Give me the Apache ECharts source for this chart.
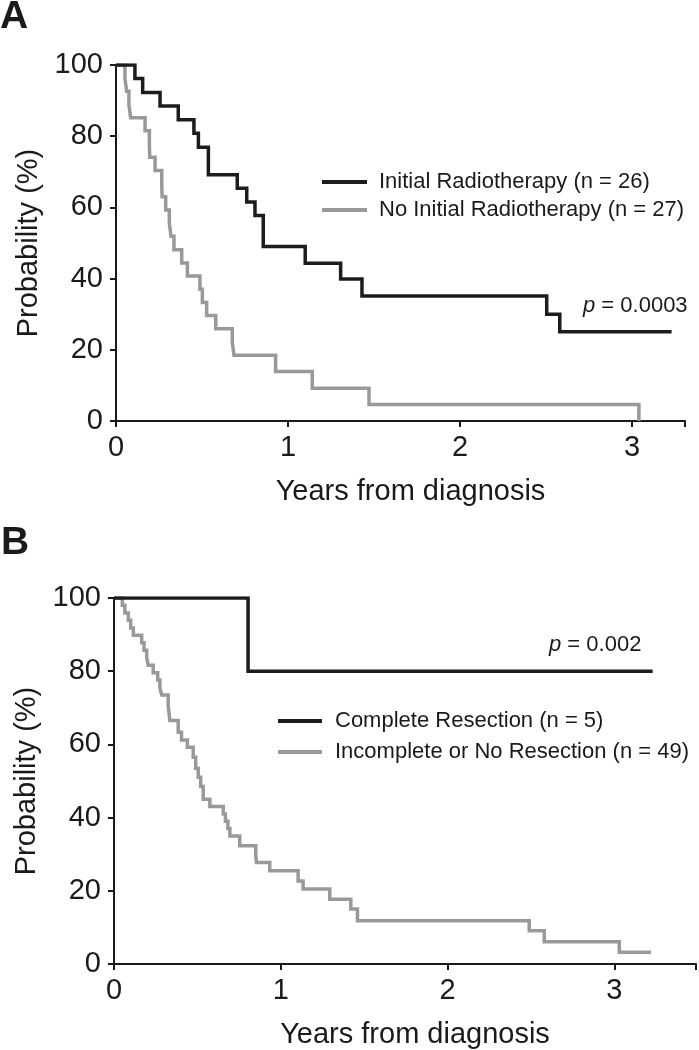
<!DOCTYPE html>
<html>
<head>
<meta charset="utf-8">
<script src="https://cdn.jsdelivr.net/npm/echarts@6/dist/echarts.min.js"></script>
<style>
html,body{margin:0;padding:0;background:#fff;}
#c{width:699px;height:1050px;}
</style>
</head>
<body>
<div id="c"></div>
<script>
// ---- Data ----
const xTicks = [0, 1, 2, 3];
const yTicks = [0, 20, 40, 60, 80, 100];

// Panel A: Initial Radiotherapy (n = 26)
const aRadTime = [0, 0.110, 0.155, 0.256, 0.362, 0.453, 0.479, 0.537, 0.705, 0.760, 0.808, 0.856, 1.10, 1.306, 1.43, 2.504, 2.58, 3.23];
const aRadSurv = [100, 96.2, 92.3, 88.5, 84.6, 80.8, 76.9, 69.2, 65.4, 61.5, 57.7, 49.0, 44.3, 39.9, 35.1, 30.0, 25.1, 25.1];

// Panel A: No Initial Radiotherapy (n = 27)
const aNoRadTime = [0, 0.052, 0.062, 0.075, 0.085, 0.169, 0.194, 0.196, 0.227, 0.266, 0.268, 0.289, 0.31, 0.320, 0.337, 0.382, 0.415, 0.488, 0.502, 0.527, 0.580, 0.676, 0.686, 0.928, 1.141, 1.471, 3.04];
const aNoRadSurv = [100, 96.3, 92.6, 88.9, 85.2, 81.5, 77.8, 74.1, 70.4, 66.7, 63.0, 59.3, 55.6, 51.9, 48.1, 44.4, 40.7, 37.0, 33.3, 29.6, 25.9, 22.2, 18.5, 13.9, 9.2, 4.6, 0];

// Panel B: Complete Resection (n = 5)
const bCompTime = [0, 0.804, 3.23];
const bCompSurv = [100, 80, 80];

// Panel B: Incomplete or No Resection (n = 49)
const bIncTime = [0, 0.05, 0.065, 0.086, 0.10, 0.116, 0.166, 0.18, 0.196, 0.205, 0.235, 0.262, 0.275, 0.286, 0.325, 0.335, 0.385, 0.405, 0.44, 0.475, 0.49, 0.505, 0.52, 0.535, 0.575, 0.655, 0.668, 0.683, 0.695, 0.754, 0.85, 0.854, 0.934, 1.104, 1.134, 1.294, 1.42, 1.46, 2.49, 2.58, 3.03, 3.22];
const bIncSurv = [100, 98.0, 95.9, 93.9, 91.8, 89.8, 87.8, 85.7, 83.7, 81.6, 79.6, 77.6, 75.5, 73.5, 70.5, 66.5, 63.3, 61.2, 59.2, 56.5, 53.5, 51.0, 48.5, 45.0, 43.0, 41.0, 39.0, 37.0, 35.0, 32.3, 30.0, 27.7, 25.5, 22.7, 20.5, 17.7, 15.0, 11.8, 9.1, 6.1, 3.2, 3.2];

const namesA = ['Initial Radiotherapy (n = 26)', 'No Initial Radiotherapy (n = 27)'];
const namesB = ['Complete Resection (n = 5)', 'Incomplete or No Resection (n = 49)'];
const pA = '0.0003';
const pB = '0.002';

// ---- Styling ----
const FONT = 'Liberation Sans, Arial, Helvetica, sans-serif';
const INK = '#1a1a1a';
const BLACK = '#1c1c1c';
const GRAY = '#999999';

function zip(t, s) { return t.map((v, i) => [v, s[i]]); }

function xAxis(gridIndex, max) {
  return {
    type: 'value', gridIndex, min: 0, max, interval: 1,
    name: 'Years from diagnosis', nameLocation: 'middle', nameGap: 56,
    nameTextStyle: { fontFamily: FONT, fontSize: 29, color: INK, padding: [0, 0, 0, 20] },
    axisLine: { show: true, onZero: false, lineStyle: { color: INK, width: 2 } },
    axisTick: { show: true, length: 6, lineStyle: { color: INK, width: 2 } },
    axisLabel: { fontFamily: FONT, fontSize: 29, color: INK, margin: 12,
      formatter: v => (xTicks.indexOf(v) >= 0 ? String(v) : '') },
    splitLine: { show: false }
  };
}
function yAxis(gridIndex) {
  return {
    type: 'value', gridIndex, min: 0, max: 100, interval: 20,
    name: 'Probability (%)', nameLocation: 'middle', nameGap: 68,
    nameTextStyle: { fontFamily: FONT, fontSize: 29, color: INK },
    axisLine: { show: true, lineStyle: { color: INK, width: 2 } },
    axisTick: { show: true, length: 6, lineStyle: { color: INK, width: 2 } },
    axisLabel: { fontFamily: FONT, fontSize: 29, color: INK, margin: 13,
      formatter: v => (yTicks.indexOf(v) >= 0 ? String(v) : '') },
    splitLine: { show: false }
  };
}
function km(name, t, s, color, idx) {
  return {
    name, type: 'line', step: 'end', xAxisIndex: idx, yAxisIndex: idx,
    data: zip(t, s), showSymbol: false, symbol: 'none', animation: false,
    lineStyle: { color, width: 3.5, cap: 'butt', join: 'miter' },
    itemStyle: { color }, z: color === BLACK ? 3 : 2
  };
}

const chart = echarts.init(document.getElementById('c'), null, { renderer: 'canvas' });
chart.setOption({
  backgroundColor: '#fff',
  animation: false,
  grid: [
    { left: 116, top: 65, width: 569, height: 356 },
    { left: 114, top: 598, width: 583, height: 367 }
  ],
  xAxis: [xAxis(0, 3.308), xAxis(1, 3.49)],
  yAxis: [yAxis(0), yAxis(1)],
  legend: [
    { data: namesA, orient: 'vertical', left: 322, top: 171, padding: 0, itemWidth: 45, itemHeight: 4,
      itemGap: 6, icon: 'rect', selectedMode: false,
      textStyle: { fontFamily: FONT, fontSize: 22, color: INK, lineHeight: 22, padding: [0, 0, 0, 7] } },
    { data: namesB, orient: 'vertical', left: 278, top: 710, padding: 0, itemWidth: 44, itemHeight: 4,
      itemGap: 9, icon: 'rect', selectedMode: false,
      textStyle: { fontFamily: FONT, fontSize: 22, color: INK, lineHeight: 22, padding: [0, 0, 0, 8] } }
  ],
  graphic: [
    { type: 'text', left: 0, top: -2, style: { text: 'A', font: 'bold 39px ' + FONT, fill: INK } },
    { type: 'text', left: 1, top: 524, style: { text: 'B', font: 'bold 39px ' + FONT, fill: INK } },
    { type: 'text', left: 583, top: 295, style: {
        rich: { i: { fontStyle: 'italic', fontFamily: FONT, fontSize: 22, fill: INK }, n: { fontFamily: FONT, fontSize: 22, fill: INK } },
        text: '{i|p}{n| = ' + pA + '}' } },
    { type: 'text', left: 549, top: 634, style: {
        rich: { i: { fontStyle: 'italic', fontFamily: FONT, fontSize: 22, fill: INK }, n: { fontFamily: FONT, fontSize: 22, fill: INK } },
        text: '{i|p}{n| = ' + pB + '}' } }
  ],
  series: [
    km(namesA[0], aRadTime, aRadSurv, BLACK, 0),
    km(namesA[1], aNoRadTime, aNoRadSurv, GRAY, 0),
    km(namesB[0], bCompTime, bCompSurv, BLACK, 1),
    km(namesB[1], bIncTime, bIncSurv, GRAY, 1)
  ]
});
</script>
</body>
</html>
